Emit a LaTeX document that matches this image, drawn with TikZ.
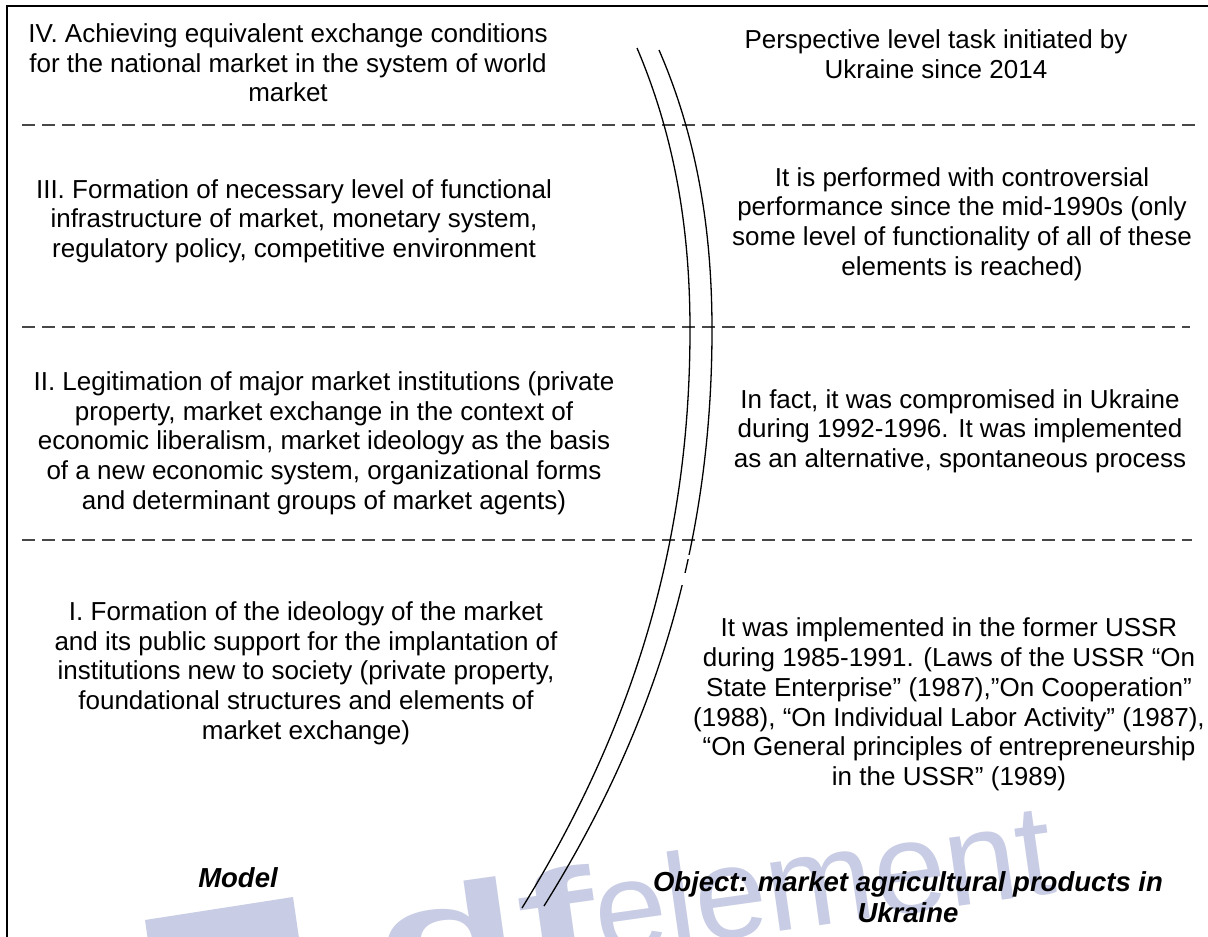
\documentclass[tikz,border=0pt]{standalone}
\usepackage{fontspec}
\setmainfont{Liberation Sans}
\definecolor{wmcol}{RGB}{200,204,228}
\tikzset{
  txt/.style={align=center, font=\fontsize{26}{29.7}\selectfont, inner sep=0pt},
  lbl/.style={align=center, font=\fontsize{27.5}{31}\selectfont\bfseries\itshape, inner sep=0pt},
  sepline/.style={dash pattern=on 13pt off 7pt, line width=1.3pt, color=black!72},
  arcline/.style={line width=1.3pt},
  frameline/.style={line width=2.5pt},
  wmtext/.style={text=wmcol, inner sep=0pt, font=\fontsize{130}{130}\selectfont, rotate=8}
}
\begin{document}
\begin{tikzpicture}[x=1pt, y=-1pt]
\useasboundingbox (0,0) rectangle (1208,937);
\fill[white] (0,0) rectangle (1208,937);
% watermark
\begin{scope}
\clip (0,0) rectangle (1208,937);
\fill[wmcol] (145,920) -- (293,897) -- (300,945) -- (152,968) -- cycle;
\node[wmtext, anchor=base east] (wmdf) at (602,957) {\scalebox{1.8}[1]{\bfseries df}};
\node[wmtext, anchor=base west] (wmel) at (600,957) {element};
\end{scope}
% frame
\draw[frameline] (7,937) -- (7,6) -- (1208,6);
% separators
\coordinate (s1a) at (22,125);  \coordinate (s1b) at (1200,125);
\coordinate (s2a) at (22,327);  \coordinate (s2b) at (1190,327);
\coordinate (s3a) at (22,540);  \coordinate (s3b) at (1192,540);
\draw[sepline] (s1a) -- (s1b);
\draw[sepline] (s2a) -- (s2b);
\draw[sepline] (s3a) -- (s3b);
% double curve
\coordinate (c1top) at (637,48);  \coordinate (c1mid) at (690,330);  \coordinate (c1bot) at (522,908);
\coordinate (c2top) at (659,50);  \coordinate (c2mid) at (712,330);  \coordinate (c2bot) at (544,906);
\draw[arcline] (c1top) .. controls (677,142) and (690,236) .. (c1mid) .. controls (690,540) and (635,725) .. (c1bot);
\draw[arcline] (c2top) .. controls (699,142) and (712,236) .. (c2mid) .. controls (712,540) and (657,725) .. (c2bot);
\fill[white] (676,555) rectangle (700,559);
\fill[white] (672,573) rectangle (696,585);
% texts
\node[txt] (l4) at (288,63) {IV. Achieving equivalent exchange conditions\\for the national market in the system of world\\market};
\node[txt] (r4) at (936,54.5) {Perspective level task initiated by\\Ukraine since 2014};
\node[txt] (l3) at (294,221) {III. Formation of necessary level of functional\\infrastructure of market, monetary system,\\regulatory policy, competitive environment};
\node[txt] (r3) at (962,224) {It is performed with controversial\\performance since the mid-1990s (only\\some level of functionality of all of these\\elements is reached)};
\node[txt] (l2) at (324,443) {II. Legitimation of major market institutions (private\\property, market exchange in the context of\\economic liberalism, market ideology as the basis\\of a new economic system, organizational forms\\and determinant groups of market agents)};
\node[txt] (r2) at (960,431) {In fact, it was compromised in Ukraine\\during 1992-1996. It was implemented\\as an alternative, spontaneous process};
\node[txt] (l1) at (306,673) {I. Formation of the ideology of the market\\and its public support for the implantation of\\institutions new to society (private property,\\foundational structures and elements of\\market exchange)};
\node[txt] (r1) at (949,704.5) {It was implemented in the former USSR\\during 1985-1991. (Laws of the USSR “On\\State Enterprise” (1987),”On Cooperation”\\(1988), “On Individual Labor Activity” (1987),\\“On General principles of entrepreneurship\\in the USSR” (1989)};
\node[lbl] (model) at (238,878) {Model};
\node[lbl] (object) at (908,897.5) {Object: market agricultural products in\\Ukraine};
\end{tikzpicture}
\end{document}
